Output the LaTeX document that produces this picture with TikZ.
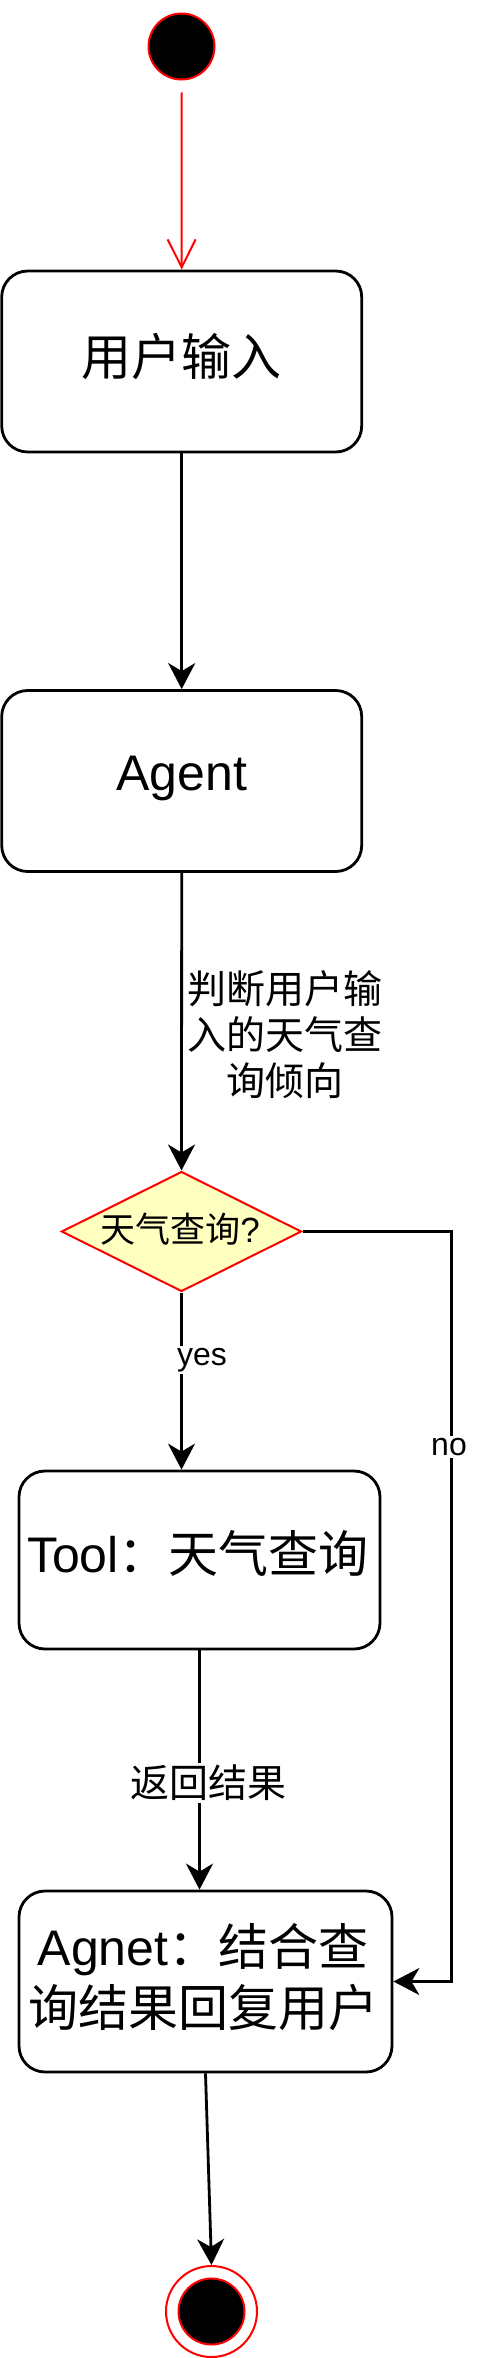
\documentclass[tikz,border=0pt]{standalone}
\usepackage{fontspec}
\setmainfont{Liberation Sans}
\newfontfamily\cjk{Noto Sans CJK SC}
\usetikzlibrary{arrows.meta,shapes.geometric}
\definecolor{decfill}{HTML}{FFFFC0}
\begin{document}
\begin{tikzpicture}[x=1pt,y=-1pt,
  statebox/.style={draw=black,line width=2.8pt,rounded corners=26pt,fill=white,
    inner sep=0pt,align=center},
  bigtxt/.style={font=\fontsize{50}{61}\selectfont},
  midtxt/.style={font=\fontsize{39}{46}\selectfont},
  smalltxt/.style={font=\fontsize{32}{38}\selectfont},
  flow/.style={draw=black,line width=2.8pt,-{Stealth[length=26pt,width=27pt,inset=8pt]}},
  lbl/.style={fill=white,inner sep=2pt}
]
\useasboundingbox (0,0) rectangle (477,2358);

% start
\node[circle,draw=red,fill=black,line width=2pt,minimum size=66pt,inner sep=0pt] (start) at (181.5,46.5) {};

% boxes
\node[statebox,minimum width=360pt,minimum height=181pt] (box1) at (181.7,361.5) {};
\node[bigtxt] (t1) at (181.7,357) {\cjk 用户输入};

\node[statebox,minimum width=360pt,minimum height=181pt] (box2) at (181.7,781) {};
\node[bigtxt] (t2) at (181.7,778) {Agent};

\node[diamond,draw=red,fill=decfill,line width=2pt,minimum width=240pt,minimum height=120pt,inner sep=0pt] (dec) at (181.5,1231.5) {};
\node[font=\fontsize{35}{40}\selectfont] (tdec) at (180,1229) {{\cjk 天气查询}?};

\node[statebox,minimum width=361pt,minimum height=178pt] (box3) at (199.5,1560) {};
\node[bigtxt] (t3) at (198,1553) {Tool{\cjk ：天气查询}};

\node[statebox,minimum width=373pt,minimum height=181pt] (box4) at (205.5,1981.5) {};
\node[bigtxt,align=center] (t4) at (203,1977) {Agnet{\cjk ：结合查}\\{\cjk 询结果回复用户}};

% end
\node[circle,draw=red,fill=white,line width=2pt,minimum size=91pt,inner sep=0pt] (endo) at (211.5,2311.5) {};
\node[circle,draw=red,fill=black,line width=2pt,minimum size=66pt,inner sep=0pt] (endi) at (211.5,2311.5) {};

% connectors
\draw[red,line width=2pt,shorten <=12pt,-{Straight Barb[length=28pt,width=28pt]}] (start.south) -- (box1.north);
\draw[flow] (box1.south) -- (box2.north);
\draw[flow] (box2.south) -- (dec.north);
\node[midtxt,align=center] (l1) at (285,1035) {\cjk 判断用户输\\\cjk 入的天气查\\\cjk 询倾向};

\draw[flow] (dec.south) -- (dec.south |- box3.north);
\node[smalltxt,lbl] (lyes) at (202,1360) {yes};

\coordinate (nocorner) at (451.7,1231.5);
\draw[flow] (dec.east) -- (nocorner) |- (box4.east);
\node[smalltxt,lbl] (lno) at (449,1447) {no};

\draw[flow] (box3.south) -- (box3.south |- box4.north);
\node[midtxt,lbl] (lret) at (208.5,1783) {\cjk 返回结果};

\draw[flow] (box4.south) -- (endo.north);
\end{tikzpicture}
\end{document}
